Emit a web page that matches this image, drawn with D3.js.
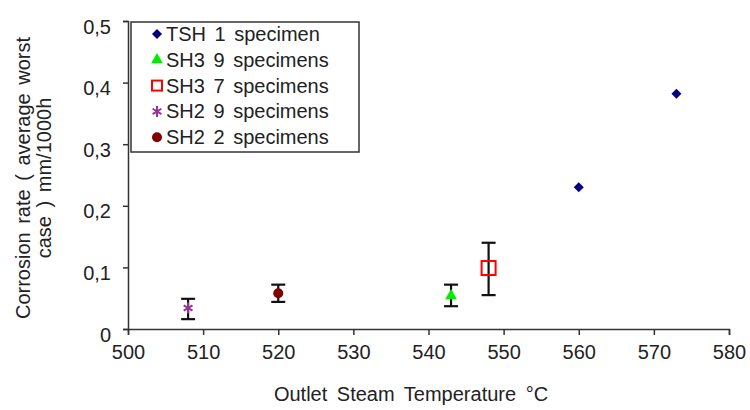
<!DOCTYPE html>
<html>
<head>
<meta charset="utf-8">
<script src="https://cdn.jsdelivr.net/npm/d3@7"></script>
<style>
  body { margin: 0; background: #fff; }
  text { font-family: "Liberation Sans", Arial, sans-serif; fill: #222; }
</style>
</head>
<body>
<div id="chart"></div>
<script>
const width = 750;
const height = 410;
const margin = { left: 128, right: 21, top: 21, bottom: 81 };
const w = width - margin.left - margin.right;
const h = height - margin.top - margin.bottom;

// data
const series = ["TSH 1 specimen", "SH3 9 specimens", "SH3 7 specimens", "SH2 9 specimens", "SH2 2 specimens"];
const colors = ["#000080", "#00ee00", "#ff0000", "#993399", "#800000"];
const tsh_temp = [560, 573];
const tsh_rate = [0.23, 0.382];
const sh_temp = [543, 548, 508, 520];
const sh_series = [1, 2, 3, 4];
const sh_rate = [0.054, 0.099, 0.034, 0.058];
const sh_err_low = [0.037, 0.055, 0.016, 0.044];
const sh_err_high = [0.072, 0.14, 0.049, 0.072];
const x_ticks = [500, 510, 520, 530, 540, 550, 560, 570, 580];
const y_ticks = [0, 0.1, 0.2, 0.3, 0.4, 0.5];

const points = tsh_temp.map((t, i) => ({ s: 0, x: t, y: tsh_rate[i] }))
  .concat(sh_temp.map((t, i) => ({ s: sh_series[i], x: t, y: sh_rate[i], lo: sh_err_low[i], hi: sh_err_high[i] })));

const x_scale = d3.scaleLinear().domain([500, 580]).range([0, w]);
const y_scale = d3.scaleLinear().domain([0, 0.5]).range([h, 0]);

const svg = d3.select('#chart')
  .append('svg')
    .attr('width', width)
    .attr('height', height)
  .append('g')
    .attr('transform', 'translate(' + margin.left + ',' + margin.top + ')');

// Axes
const x_axis = svg.append('g')
  .attr('transform', 'translate(0,' + h + ')')
  .call(d3.axisBottom(x_scale).tickValues(x_ticks).tickSizeOuter(0).tickSize(6).tickPadding(10));
const y_axis = svg.append('g')
  .call(d3.axisLeft(y_scale).tickValues(y_ticks).tickSizeOuter(0).tickSize(5).tickPadding(12)
    .tickFormat(d => d === 0 ? '0' : d3.format('.1f')(d).replace('.', ',')));
[x_axis, y_axis].forEach(a => {
  a.selectAll('path, line').attr('stroke', '#333').attr('stroke-width', 1.5);
  a.selectAll('text').attr('font-size', 20).attr('fill', '#222')
    .attr('font-family', '"Liberation Sans", Arial, sans-serif');
});
y_axis.selectAll('text').attr('dy', '0.6em');

// Axis titles
svg.append('text')
  .attr('x', 411 - margin.left)
  .attr('y', h + 72)
  .attr('text-anchor', 'middle')
  .attr('font-size', 20)
  .attr('word-spacing', 4)
  .text('Outlet Steam Temperature °C');
const ytitle = svg.append('text')
  .attr('transform', 'translate(' + (-margin.left + 30) + ',' + (y_scale(0.25) + 3) + ') rotate(-90)')
  .attr('text-anchor', 'middle')
  .attr('font-size', 20)
  .attr('word-spacing', 3);
ytitle.append('tspan').attr('x', 0).attr('dy', 0).text('Corrosion rate ( average worst');
ytitle.append('tspan').attr('x', 0).attr('dy', 21).text('case ) mm/1000h');

// Marker shapes
const asterisk = s => {
  const r = s / 2;
  const d = r * 0.8;
  return `M0,${-r}L0,${r}M${-d},${-d * 0.6}L${d},${d * 0.6}M${-d},${d * 0.6}L${d},${-d * 0.6}`;
};
const marker = (sel, s, big) => {
  if (s === 0) sel.append('path').attr('d', d3.symbol(d3.symbolSquare, 50)()).attr('transform', 'rotate(45)').attr('fill', colors[s]);
  if (s === 1) sel.append('path').attr('d', d3.symbol(d3.symbolTriangle, 60)()).attr('fill', colors[s]);
  if (s === 2) sel.append('rect')
    .attr('x', big ? -7 : -5).attr('y', big ? -7 : -5)
    .attr('width', big ? 14 : 10).attr('height', big ? 14 : 10)
    .attr('fill', 'none').attr('stroke', colors[s]).attr('stroke-width', 2);
  if (s === 3) sel.append('path').attr('d', asterisk(11)).attr('stroke', colors[s]).attr('stroke-width', 2).attr('fill', 'none');
  if (s === 4) sel.append('circle').attr('r', 5).attr('fill', colors[s]);
};

// Error bars
const cap = 7;
const err = svg.selectAll('.err')
  .data(points.filter(d => d.lo !== undefined))
  .join('g')
    .attr('class', 'err')
    .attr('stroke', '#111')
    .attr('stroke-width', 2.2);
err.append('line')
  .attr('x1', d => x_scale(d.x)).attr('x2', d => x_scale(d.x))
  .attr('y1', d => y_scale(d.lo)).attr('y2', d => y_scale(d.hi));
err.append('line')
  .attr('x1', d => x_scale(d.x) - cap).attr('x2', d => x_scale(d.x) + cap)
  .attr('y1', d => y_scale(d.lo)).attr('y2', d => y_scale(d.lo));
err.append('line')
  .attr('x1', d => x_scale(d.x) - cap).attr('x2', d => x_scale(d.x) + cap)
  .attr('y1', d => y_scale(d.hi)).attr('y2', d => y_scale(d.hi));

// Points
svg.selectAll('.pt')
  .data(points)
  .join('g')
    .attr('class', 'pt')
    .attr('transform', d => 'translate(' + x_scale(d.x) + ',' + y_scale(d.y) + ')')
    .each(function(d) { marker(d3.select(this), d.s, true); });

// Legend
const legend = svg.append('g').attr('transform', 'translate(3,1)');
legend.append('rect')
  .attr('width', 228).attr('height', 130)
  .attr('fill', '#fff').attr('stroke', '#333').attr('stroke-width', 1.5);
const items = legend.selectAll('.item')
  .data(series)
  .join('g')
    .attr('class', 'item')
    .attr('transform', (d, i) => 'translate(26,' + (12 + i * 25.8) + ')');
items.each(function(d, i) { marker(d3.select(this), i, false); });
items.append('text')
  .attr('x', 9)
  .attr('y', 7)
  .attr('font-size', 20)
  .attr('word-spacing', 3)
  .text(d => d);
</script>
</body>
</html>
